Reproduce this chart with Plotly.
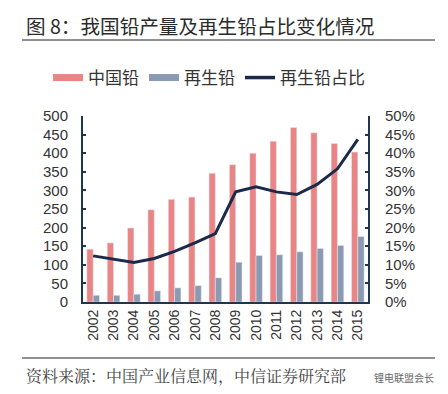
import plotly.graph_objects as go

years = ["2002", "2003", "2004", "2005", "2006", "2007", "2008",
         "2009", "2010", "2011", "2012", "2013", "2014", "2015"]
lead_total = [142, 159, 199, 248, 276, 282, 346, 369, 400, 432, 469, 455, 426, 403]
lead_recycled = [18, 18, 21, 30, 38, 44, 65, 107, 125, 127, 135, 144, 152, 176]
recycled_share = [12.4, 11.5, 10.6, 11.7, 13.6, 15.9, 18.4, 29.6, 31.0, 29.6, 28.9, 31.6, 35.8, 43.7]

left_ticks = [0, 50, 100, 150, 200, 250, 300, 350, 400, 450, 500]
right_ticks = [0, 5, 10, 15, 20, 25, 30, 35, 40, 45, 50]
right_labels = [f"{v}%" for v in right_ticks]

names = ["中国铅", "再生铅", "再生铅占比"]
c_pink = "#E98585"
c_grey = "#8A9AB2"
c_navy = "#1B2A4A"
axis_col = "#1F3550"
txt = "#333333"

W, H = 448, 394
L, R, T, B = 83, 368, 116, 302


def px(x):
    return (x - L) / (R - L)


def py(y):
    return (B - y) / (B - T)


fig = go.Figure()
fig.add_trace(go.Bar(x=years, y=lead_total, marker_color=c_pink, name=names[0], showlegend=False))
fig.add_trace(go.Bar(x=years, y=lead_recycled, marker_color=c_grey, name=names[1], showlegend=False))
fig.add_trace(go.Scatter(x=years, y=recycled_share, yaxis="y2", mode="lines",
                         line=dict(color=c_navy, width=3), name=names[2], showlegend=False))

# legend-only entries with wide swatches
for nm, col in zip(names, [c_pink, c_grey, c_navy]):
    fig.add_trace(go.Scatter(x=[None], y=[None], mode="lines", name=nm,
                             line=dict(color=col, width=7 if col != c_navy else 3.5)))

fig.update_layout(
    width=W, height=H,
    margin=dict(l=L, r=W - R, t=T, b=H - B),
    paper_bgcolor="white", plot_bgcolor="white",
    barmode="group", bargap=0.38, bargroupgap=0.0,
    font=dict(family="Liberation Sans, Arial, sans-serif", size=15, color=txt),
    showlegend=True,
    legend=dict(orientation="h", x=px(48), xanchor="left", y=py(78), yanchor="middle",
                font=dict(family="Noto Sans CJK SC", size=17, color=txt),
                itemwidth=30, tracegroupgap=0, bgcolor="rgba(0,0,0,0)"),
    xaxis=dict(type="category", tickangle=-90, showline=True, linecolor=axis_col, linewidth=2,
               ticks="", showgrid=False, tickfont=dict(size=14, color=txt)),
    yaxis=dict(range=[0, 500], tickvals=left_ticks, showline=True, linecolor=axis_col, linewidth=2,
               ticks="inside", ticklen=3, tickwidth=2, tickcolor=axis_col, showgrid=False, zeroline=False,
               ticklabelstandoff=10, tickfont=dict(size=15, color=txt)),
    yaxis2=dict(range=[0, 50], tickvals=right_ticks, ticktext=right_labels, overlaying="y",
                side="right", showline=True, linecolor=axis_col, linewidth=2,
                ticks="inside", ticklen=3, tickwidth=2, tickcolor=axis_col, showgrid=False, zeroline=False,
                ticklabelstandoff=12, tickfont=dict(size=15, color=txt)),
)

fig.add_annotation(text="图 8：我国铅产量及再生铅占比变化情况", xref="paper", yref="paper",
                   x=px(24), y=py(25), xanchor="left", yanchor="middle", showarrow=False,
                   font=dict(family="Noto Sans CJK SC", size=19.6, color="#2b2b2b"))
fig.add_shape(type="line", xref="paper", yref="paper", x0=px(22), x1=px(435), y0=py(40), y1=py(40),
              line=dict(color="#222222", width=1))
fig.add_shape(type="line", xref="paper", yref="paper", x0=px(22), x1=px(435), y0=py(358), y1=py(358),
              line=dict(color="#222222", width=1))
fig.add_annotation(text="资料来源：中国产业信息网，中信证券研究部", xref="paper", yref="paper",
                   x=px(24), y=py(375), xanchor="left", yanchor="middle", showarrow=False,
                   font=dict(family="Noto Serif CJK SC, Noto Sans CJK SC", size=16, color="#444444"))
fig.add_annotation(text="锂电联盟会长", xref="paper", yref="paper",
                   x=px(436), y=py(377), xanchor="right", yanchor="middle", showarrow=False,
                   font=dict(family="Noto Sans CJK SC", size=10, color="#666666"))

fig.write_html("out.html", config={"displayModeBar": False},
               post_script="document.body.style.margin='0';")
